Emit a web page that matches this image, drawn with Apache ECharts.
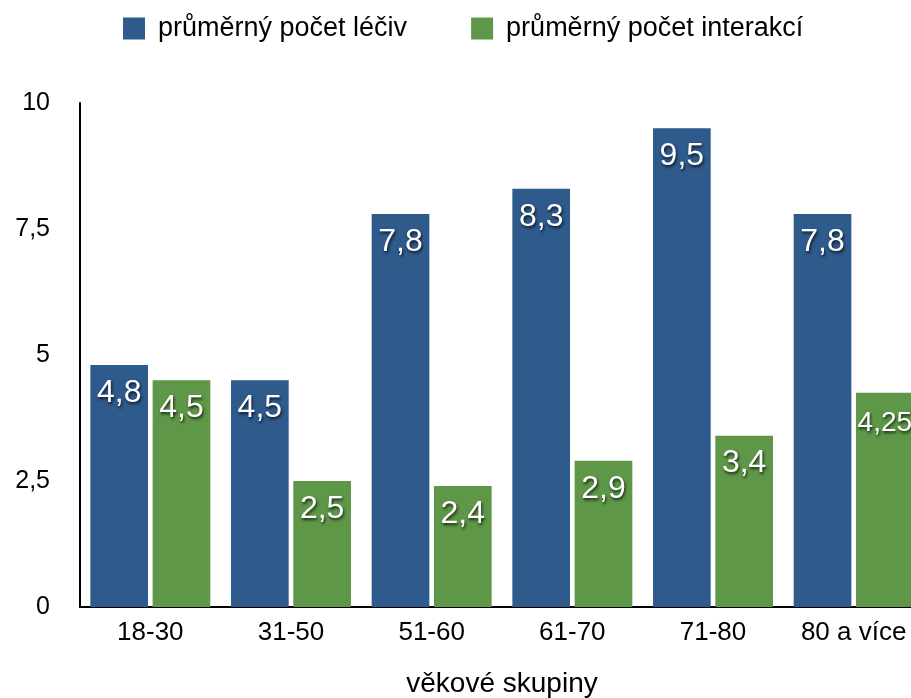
<!DOCTYPE html>
<html>
<head>
<meta charset="utf-8">
<style>
  html, body { margin: 0; padding: 0; background: #fff; }
  #chart { width: 911px; height: 698px; }
</style>
<script src="https://cdn.jsdelivr.net/npm/echarts@6/dist/echarts.min.js"></script>
</head>
<body>
<div id="chart"></div>
<script>
// Age groups and the two averages per group
const categories = ['18-30', '31-50', '51-60', '61-70', '71-80', '80 a více'];
const drugs = [4.8, 4.5, 7.8, 8.3, 9.5, 7.8];
const interactions = [4.5, 2.5, 2.4, 2.9, 3.4, 4.25];
const yTicks = [0, 2.5, 5, 7.5, 10];

const FONT = '"Liberation Sans", Arial, Helvetica, sans-serif';
const fmt = v => String(v).replace('.', ',');

const labelStyle = {
  show: true,
  position: 'insideTop',
  distance: 12,
  color: '#fff',
  fontFamily: FONT,
  fontSize: 32,
  textShadowColor: 'rgba(0,0,0,0.75)',
  textShadowBlur: 3,
  textShadowOffsetX: 1,
  textShadowOffsetY: 2,
  formatter: p => fmt(p.value)
};

const chart = echarts.init(document.getElementById('chart'));
chart.setOption({
  animation: false,
  textStyle: { fontFamily: FONT },
  legend: {
    top: 10,
    left: 118,
    icon: 'rect',
    itemWidth: 22,
    itemHeight: 22,
    itemGap: 64,
    textStyle: { fontSize: 27, color: '#000', fontFamily: FONT, padding: [0, 0, 0, 8] },
    data: ['průměrný počet léčiv', 'průměrný počet interakcí']
  },
  // the plot runs past the right edge of the canvas
  grid: { left: 80, top: 103, width: 844, bottom: 91, containLabel: false, outerBoundsMode: 'none' },
  xAxis: {
    type: 'category',
    data: categories,
    name: 'věkové skupiny',
    nameLocation: 'middle',
    nameGap: 63,
    nameTextStyle: { fontSize: 28, color: '#000', fontFamily: FONT },
    axisLine: { lineStyle: { color: '#000', width: 2 } },
    axisTick: { show: false },
    axisLabel: { fontSize: 26, color: '#000', margin: 13, fontFamily: FONT }
  },
  yAxis: {
    type: 'value',
    min: yTicks[0],
    max: yTicks[yTicks.length - 1],
    interval: 2.5,
    axisLine: { show: true, lineStyle: { color: '#000', width: 2 } },
    axisTick: { show: false },
    splitLine: { show: false },
    axisLabel: { fontSize: 25, color: '#000', margin: 30, fontFamily: FONT, formatter: v => fmt(v) }
  },
  series: [
    {
      name: 'průměrný počet léčiv',
      type: 'bar',
      data: drugs,
      barWidth: '41%',
      barGap: '8%',
      itemStyle: { color: '#2E5A8C' },
      label: labelStyle
    },
    {
      name: 'průměrný počet interakcí',
      type: 'bar',
      data: interactions.map(v => String(v).length > 3
        ? { value: v, label: { fontSize: 28, distance: 16 } }
        : v),
      barWidth: '41%',
      itemStyle: { color: '#5E9748' },
      label: labelStyle
    }
  ]
});
</script>
</body>
</html>
